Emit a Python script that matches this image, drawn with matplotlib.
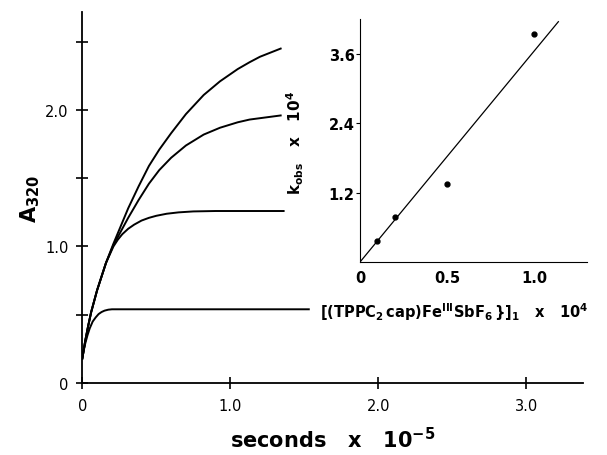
import matplotlib
matplotlib.use("Agg")
import matplotlib.pyplot as plt

# absorbance traces (time in units of 1e5 s)
t1 = [0, 0.02, 0.04, 0.06, 0.08, 0.10, 0.13, 0.16, 0.21, 0.26, 0.31, 0.38, 0.45,
      0.52, 0.60, 0.70, 0.82, 0.93, 1.05, 1.13, 1.20, 1.27, 1.34]
a1 = [0.18, 0.31, 0.42, 0.52, 0.60, 0.68, 0.78, 0.88, 1.02, 1.15, 1.28, 1.44, 1.59,
      1.71, 1.83, 1.97, 2.11, 2.21, 2.30, 2.35, 2.39, 2.42, 2.45]
t2 = [0, 0.02, 0.04, 0.06, 0.08, 0.10, 0.13, 0.16, 0.21, 0.26, 0.31, 0.38, 0.45,
      0.52, 0.60, 0.70, 0.82, 0.93, 1.05, 1.13, 1.20, 1.27, 1.34]
a2 = [0.18, 0.31, 0.42, 0.52, 0.60, 0.68, 0.78, 0.88, 1.01, 1.11, 1.21, 1.34, 1.46,
      1.56, 1.65, 1.74, 1.82, 1.87, 1.91, 1.93, 1.94, 1.95, 1.96]
t3 = [0, 0.02, 0.04, 0.06, 0.08, 0.10, 0.13, 0.16, 0.21, 0.24, 0.27, 0.31, 0.35,
      0.40, 0.45, 0.50, 0.57, 0.65, 0.75, 0.90, 1.36]
a3 = [0.18, 0.31, 0.42, 0.52, 0.60, 0.68, 0.78, 0.88, 1.00, 1.05, 1.09, 1.13, 1.16,
      1.19, 1.21, 1.225, 1.24, 1.25, 1.257, 1.26, 1.26]
t4 = [0, 0.01, 0.02, 0.035, 0.05, 0.07, 0.09, 0.11, 0.13, 0.15, 0.175, 0.20, 1.53]
a4 = [0.18, 0.24, 0.29, 0.35, 0.40, 0.45, 0.48, 0.505, 0.52, 0.53, 0.537, 0.54, 0.54]

# inset: k_obs vs concentration
conc = [0.1, 0.2, 0.5, 1.0]
kobs = [0.36, 0.78, 1.34, 3.94]
fit_x = [0, 1.14]
fit_y = [0, 4.15]

fig = plt.figure(figsize=(6.07, 4.56), dpi=100)

# main plot
ax = fig.add_axes([0.1356, 0.1579, 0.825, 0.8136])
for t, a in [(t1, a1), (t2, a2), (t3, a3), (t4, a4)]:
    ax.plot(t, a, color="black", lw=1.4)
ax.set_xlim(0, 3.383)
ax.set_ylim(0, 2.718)
ax.spines["top"].set_visible(False)
ax.spines["right"].set_visible(False)
ax.spines["left"].set_linewidth(1.3)
ax.spines["bottom"].set_linewidth(1.3)
ax.set_xticks([0, 1, 2, 3])
ax.set_xticklabels(["0", "1.0", "2.0", "3.0"], fontsize=10.5)
ax.set_yticks([0, 1, 2])
ax.set_yticklabels(["0", "1.0", "2.0"], fontsize=10.5)
ax.set_yticks([0.5, 1.5, 2.5], minor=True)
ax.tick_params(which="both", direction="inout", length=8, width=1.2, pad=6)
ax.tick_params(axis="x", which="major", pad=7)
ax.set_xlabel(r"$\mathbf{seconds}$   x   $\mathbf{10^{-5}}$", fontsize=15,
              fontweight="bold", labelpad=9)
ax.set_ylabel(r"$\mathbf{A_{320}}$", fontsize=15, labelpad=2)

# inset
ins = fig.add_axes([0.5931, 0.4232, 0.3735, 0.533])
ins.set_facecolor("none")
ins.plot(fit_x, fit_y, color="black", lw=0.9)
ins.plot(conc, kobs, "o", color="black", ms=3.5)
ins.set_xlim(0, 1.303)
ins.set_ylim(0, 4.197)
ins.spines["top"].set_visible(False)
ins.spines["right"].set_visible(False)
ins.set_xticks([0, 0.5, 1.0])
ins.set_xticklabels(["0", "0.5", "1.0"], fontsize=10.5, fontweight="bold")
ins.set_yticks([1.2, 2.4, 3.6])
ins.set_yticklabels(["1.2", "2.4", "3.6"], fontsize=10.5, fontweight="bold")
ins.tick_params(axis="x", length=0, pad=6)
ins.tick_params(axis="y", length=3, pad=1)

fig.text(0.486, 0.686, r"$\mathbf{k_{obs}}$   x   $\mathbf{10^4}$", rotation=90,
         ha="center", va="center", fontsize=11, fontweight="bold")
fig.text(0.528, 0.316,
         r"$\mathbf{[(TPPC_2\,cap)Fe^{III}SbF_6\,\}]_1}$   x   $\mathbf{10^4}$",
         ha="left", va="center", fontsize=10.5, fontweight="bold")

fig.savefig("out.png", dpi=100)
